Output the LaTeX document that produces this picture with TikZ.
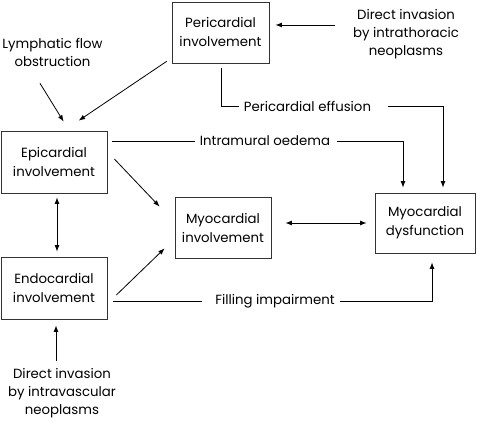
\documentclass[tikz,border=0pt]{standalone}
\usepackage{fontspec}
\setmainfont{Poppins}
\usetikzlibrary{arrows.meta,calc}
\tikzset{
  box/.style={draw=black!80,line width=0.7pt,align=center,inner sep=0pt,font=\fontsize{13.3}{19}\selectfont},
  lbl/.style={align=center,inner sep=0pt,font=\fontsize{13.3}{18}\selectfont},
  con/.style={line width=0.8pt},
  arr/.style={con,-{Latex[length=6.5pt,width=4.8pt]}},
  darr/.style={con,{Latex[length=6.5pt,width=4.8pt]}-{Latex[length=6.5pt,width=4.8pt]}},
}
\begin{document}
\begin{tikzpicture}[x=1pt,y=-1pt]
\useasboundingbox (0,0) rectangle (478,422);
% boxes
\node[box,minimum width=97pt,minimum height=61pt] (peri) at (220.5,32.5) {Pericardial\\involvement};
\node[box,minimum width=106pt,minimum height=62pt] (epi) at (54,162) {Epicardial\\involvement};
\node[box,minimum width=106pt,minimum height=62pt] (endo) at (54,288) {Endocardial\\involvement};
\node[box,minimum width=96pt,minimum height=61pt] (myo) at (223,227.5) {Myocardial\\involvement};
\node[box,minimum width=100pt,minimum height=60pt] (dys) at (425,223) {Myocardial\\dysfunction};
% labels
\node[lbl] (lym) at (52.5,52) {Lymphatic flow\\obstruction};
\node[lbl] (thor) at (406,34) {Direct invasion\\by intrathoracic\\neoplasms};
\node[lbl] (vasc) at (62,393) {Direct invasion\\by intravascular\\neoplasms};
\node[lbl] (eff) at (307.5,106) {Pericardial effusion};
\node[lbl] (oed) at (265,141) {Intramural oedema};
\node[lbl] (fill) at (275,301) {Filling impairment};
% connectors
\draw[arr] ($(peri.south west)+(-5,-2)$) -- ($(epi.north west)+(78,-10)$);
\draw[arr] ($(lym.south)+(-12.5,17)$) -- ($(epi.north west)+(63,-9)$);
\draw[arr] ($(thor.west)+(-18,-9)$) -- ($(peri.east)+(6,-7.5)$);
\draw[arr] ($(epi.east)+(7,-3)$) -- ($(myo.north west)+(-15,10)$);
\draw[arr] ($(endo.east)+(9,7)$) -- ($(myo.south west)+(-10,-10)$);
\draw[darr] ($(epi.south)+(3,4)$) -- ($(endo.north)+(3,-5)$);
\draw[arr] ($(vasc.north)+(-6,-7)$) -- ($(endo.south)+(2,6)$);
\draw[darr] ($(myo.east)+(14,-4.5)$) -- ($(dys.west)+(-8,0)$);
% elbows
\draw[con] ($(peri.south)+(0.5,5)$) |- ($(eff.west)+(-5,0)$);
\draw[arr] ($(eff.east)+(17,0)$) -| ($(dys.north)+(18,-5)$);
\draw[con] ($(epi.east)+(5,-21)$) -- ($(oed.west)+(-5,0)$);
\draw[arr] ($(oed.east)+(7,0)$) -| ($(dys.north)+(-22,-5)$);
\draw[con] ($(endo.east)+(6,13)$) -- ($(fill.west)+(-13,0)$);
\draw[arr] ($(fill.east)+(5,0)$) -| ($(dys.south)+(7,9)$);
\end{tikzpicture}
\end{document}
